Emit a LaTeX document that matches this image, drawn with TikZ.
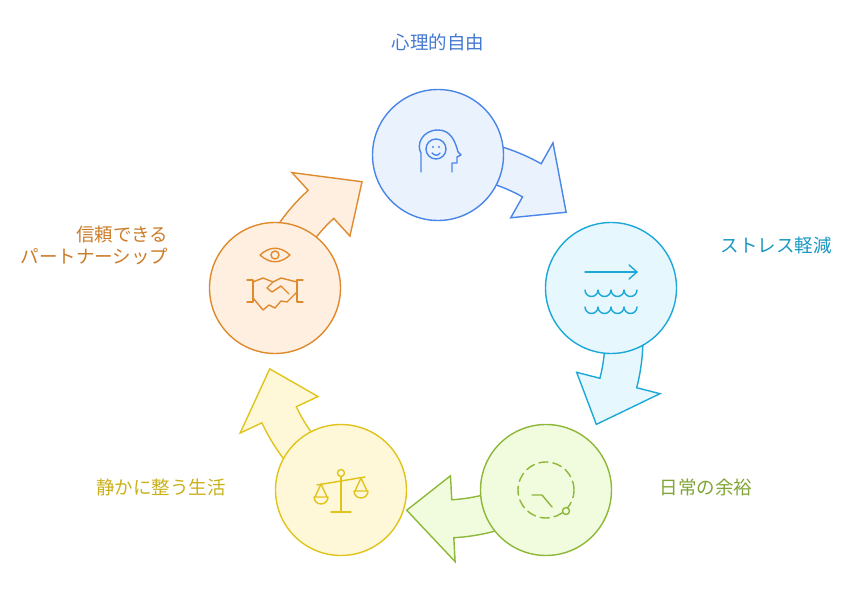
\documentclass[tikz,border=0pt]{standalone}
\usepackage{fontspec}
\setmainfont{Noto Sans CJK JP}
\usetikzlibrary{calc}
\definecolor{bS}{HTML}{4A86E8}\definecolor{bF}{HTML}{EAF2FE}
\definecolor{cS}{HTML}{1CA9D8}\definecolor{cF}{HTML}{E6F7FD}
\definecolor{gS}{HTML}{8DB83A}\definecolor{gF}{HTML}{F1FBDD}
\definecolor{yS}{HTML}{E0C41C}\definecolor{yF}{HTML}{FEF8D8}
\definecolor{oS}{HTML}{E08A2E}\definecolor{oF}{HTML}{FEEFE0}
\tikzset{x=1pt,y=1pt,
 bub/.style={circle,minimum size=131pt,line width=1.4pt,inner sep=0},
 ico/.style={line width=1.4pt,line cap=round,line join=round},
 lab/.style={font=\fontsize{18.5}{22}\selectfont}}
\begin{document}
\begin{tikzpicture}
\useasboundingbox (0,0) rectangle (851,589);
\coordinate (C) at (443,251);
\def\R{180}
\foreach \a/\s/\f in {91.6/bS/bF,16.6/cS/cF,-55.9/gS/gF,-123.9/yS/yF,163.4/oS/oF}{
 \draw[line width=1.4pt,draw=\s,fill=\f,line join=miter,shift={(C)}]
  (\a:\R+20) arc[start angle=\a,end angle=\a-31,radius=\R+20]
  -- (\a-31:\R+44) -- (\a-46:\R-4) -- (\a-31:\R-42) -- (\a-31:\R-18)
  arc[start angle=\a-31,end angle=\a,radius=\R-18] -- cycle;}
\node[bub,draw=bS,fill=bF] (n1) at (438,434) {};
\node[bub,draw=cS,fill=cF] (n2) at (611,301) {};
\node[bub,draw=gS,fill=gF] (n3) at (546,99) {};
\node[bub,draw=yS,fill=yF] (n4) at (341,99) {};
\node[bub,draw=oS,fill=oF] (n5) at (275,301) {};
% labels
\node[lab,text=bS!90!black] (t1) at (438,547) {心理的自由};
\node[lab,text=cS!90!black] (t2) at (776,344) {ストレス軽減};
\node[lab,text=gS!90!black] (t3) at (706,102) {日常の余裕};
\node[lab,text=yS!90!black] (t4) at (161,102) {静かに整う生活};
\node[lab,text=oS!90!black,align=right,anchor=east] (t5) at (172,344) {信頼できる\\パートナーシップ};
% icon head
\begin{scope}[shift={(n1.center)},ico,draw=bS]
 \draw (-17,-17) -- (-17,2) .. controls (-22,10) and (-16,25) .. (0,25) .. controls (12,25) and (17,15) .. (20,3) -- (23,0) -- (19,-2) -- (19,-8) -- (14,-8) -- (14,-17);
 \draw (-2,6) circle (10);
 \fill[bS] (-5,8) circle (1.2) (1,8) circle (1.2);
 \draw (-6,2) .. controls (-3,-1) and (0,-1) .. (2,2);
\end{scope}
% icon waves
\begin{scope}[shift={(n2.center)},ico,draw=cS]
 \draw (-26,16) -- (26,16); \draw (18,23) -- (26,16) -- (18,9);
 \foreach \y in {-2,-19}{\draw (-26,\y) \foreach \i in {0,1,2,3}{ arc[start angle=180,end angle=360,radius=6.5]};}
\end{scope}
% icon clock
\begin{scope}[shift={(n3.center)},ico,draw=gS]
 \draw[dash pattern=on 9pt off 5pt] (0,0) circle (28);
 \draw (-14,-5) -- (-4,-5) -- (6,-17);
 \draw[fill=gF] (20,-21) circle (3.5);
\end{scope}
% icon scale
\begin{scope}[shift={(n4.center)},ico,draw=yS]
 \draw (0,17) -- (0,-22) (-10,-22) -- (10,-22);
 \draw (-24,5) -- (24,13);
 \draw[fill=yF] (0,17) circle (3.5);
 \draw (-20,6) -- (-26,-7) (-20,6) -- (-14,-7);
 \draw (-27,-7) -- (-13,-7) arc[start angle=0,end angle=-180,radius=7];
 \draw (20,12) -- (14,-1) (20,12) -- (26,-1);
 \draw (13,-1) -- (27,-1) arc[start angle=0,end angle=-180,radius=7];
\end{scope}
% icon eye + handshake
\begin{scope}[shift={(n5.center)},ico,draw=oS]
 \draw (-15,33) .. controls (-5,42) and (5,42) .. (15,33) .. controls (5,24) and (-5,24) .. (-15,33) -- cycle;
 \draw (0,33) circle (4);
 \draw (-28,8) -- (-22,8) -- (-22,-14) -- (-28,-14);
 \draw (28,8) -- (22,8) -- (22,-14) -- (28,-14);
 \draw (-22,6) -- (-12,10) -- (-2,6) -- (6,10) -- (22,6);
 \draw (-22,-10) -- (-12,-22) -- (-6,-17) -- (0,-20) -- (6,-13) -- (12,-14) -- (22,-4);
 \draw (-2,6) -- (-8,0) -- (-3,-4) -- (6,2) -- (14,-6);
\end{scope}
\end{tikzpicture}
\end{document}
